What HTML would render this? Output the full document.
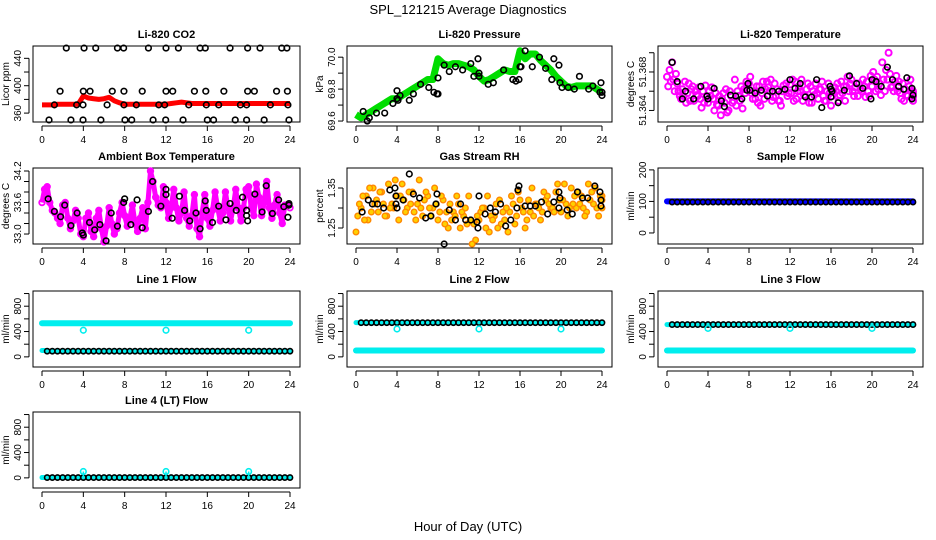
<!DOCTYPE html>
<html><head><meta charset="utf-8"><style>
html,body{margin:0;padding:0;background:#fff;}
svg{display:block;font-family:"Liberation Sans",sans-serif;}
</style></head><body>
<svg id="chart" width="936" height="540" viewBox="0 0 936 540">
<text x="468" y="14" text-anchor="middle" font-size="13">SPL_121215  Average Diagnostics</text>
<text x="468" y="531" text-anchor="middle" font-size="13">Hour of Day (UTC)</text>
</svg>
<script>
const xTicks=[0,4,8,12,16,20,24];
// CO2
const co2Red=[372,372,372,373,373,373,373,373,385,382,381,380,381,383,378,375,373,373,373,373,373,373,373,373,373,374,375,376,375,374,374,374,374,374,374,374,374,374,374,374,374,374,374,374,374,374,374,374,374];
const co2BlackH=[2.35,4.07,5.2,7.3,7.9,10.3,12.0,13.2,15.3,15.8,18.2,19.9,21.1,23.2,23.7,1.75,4.0,4.65,6.8,7.93,9.7,12.0,12.65,14.75,15.85,17.6,19.9,20.55,22.7,23.75,1.2,3.35,3.97,6.3,7.93,9.13,11.3,11.87,14.2,15.9,17.1,19.2,19.8,22.1,23.8,0.68,2.8,3.97,5.7,8.03,8.68,10.75,11.97,13.65,16.0,16.6,18.7,19.8,21.5,23.9];
const co2BlackV=[455,455,455,455,455,455,455,455,455,455,455,455,455,455,455,392,392,392,392,392,392,392,392,392,392,392,392,392,392,392,372,372,372,372,372,372,372,372,372,372,372,372,372,372,372,350,350,350,350,350,350,350,350,350,350,350,350,350,350,350];
// Pressure
const presGreen=[69.64,69.62,69.64,69.66,69.68,69.70,69.72,69.74,69.74,69.76,69.78,69.80,69.82,69.84,69.86,69.86,69.99,69.96,69.95,69.96,69.96,69.95,69.94,69.92,69.88,69.85,69.86,69.88,69.90,69.92,69.91,69.91,70.04,69.99,70.02,70.02,69.98,69.95,69.92,69.88,69.85,69.82,69.81,69.82,69.82,69.82,69.82,69.80,69.78];
const presBlackH=[0.7,1.1,1.3,2,2.8,3.6,4,4,4.1,4.3,5.2,5.6,6.3,7.1,7.6,7.9,8,8,8.6,9.1,9.7,10.4,11.2,11.5,11.9,12,12,12.9,13.4,14.4,15.3,15.6,15.9,16,16.1,16.5,17.2,17.9,18.5,19.3,19.1,19.8,19.9,20.1,20.7,21.3,21.8,22.7,23.1,23.8,23.9,24,24];
const presBlackV=[69.66,69.60,69.62,69.65,69.65,69.71,69.74,69.79,69.73,69.76,69.73,69.77,69.83,69.81,69.78,69.77,69.87,69.77,69.95,69.91,69.94,69.92,69.96,69.88,69.99,69.90,69.88,69.83,69.84,69.92,69.86,69.85,69.86,69.94,69.94,70.04,69.94,70.0,69.93,69.99,69.86,69.95,69.84,69.81,69.81,69.80,69.88,69.80,69.82,69.78,69.84,69.76,69.78];
// Li-820 temperature
const tmA=[51.3675,51.3690,51.3668,51.3662,51.3658,51.3665,51.3655,51.3660,51.3648,51.3652,51.3645,51.3658,51.3640,51.3650,51.3655,51.3662,51.3668,51.3660,51.3665,51.3652,51.3660,51.3668,51.3650,51.3662,51.3667,51.3670,51.3660,51.3655,51.3665,51.3668,51.3662,51.3650,51.3645,51.3660,51.3670,51.3665,51.3672,51.3668,51.3660,51.3670,51.3665,51.3675,51.3690,51.3672,51.3665,51.3660,51.3668,51.3655,51.3660];
const tmB=[51.3665,51.3672,51.3660,51.3655,51.3668,51.3650,51.3664,51.3648,51.3660,51.3640,51.3655,51.3648,51.3660,51.3672,51.3650,51.3658,51.3675,51.3652,51.3645,51.3662,51.3672,51.3655,51.3645,51.3668,51.3658,51.3652,51.3672,51.3662,51.3648,51.3658,51.3670,51.3660,51.3655,51.3668,51.3658,51.3675,51.3660,51.3655,51.3672,51.3660,51.3680,51.3662,51.3672,51.3700,51.3660,51.3670,51.3650,51.3665,51.3650];
const tmC=[51.3682,51.3660,51.3655,51.3670,51.3650,51.3660,51.3652,51.3666,51.3655,51.3658,51.3635,51.3662,51.3655,51.3645,51.3665,51.3670,51.3658,51.3665,51.3658,51.3670,51.3650,51.3662,51.3660,51.3655,51.3672,51.3660,51.3650,51.3668,51.3660,51.3652,51.3655,51.3668,51.3660,51.3650,51.3665,51.3660,51.3655,51.3668,51.3665,51.3655,51.3672,51.3668,51.3660,51.3678,51.3670,51.3658,51.3662,51.3672,51.3658];
const tmD=[51.3670,51.3678,51.3652,51.3648,51.3662,51.3656,51.3643,51.3654,51.3664,51.3646,51.3652,51.3638,51.3648,51.3660,51.3642,51.3666,51.3652,51.3648,51.3670,51.3664,51.3654,51.3650,51.3666,51.3658,51.3650,51.3664,51.3656,51.3648,51.3656,51.3662,51.3650,51.3658,51.3664,51.3656,51.3650,51.3668,51.3664,51.3662,51.3654,51.3676,51.3660,51.3656,51.3682,51.3664,51.3676,51.3652,51.3656,51.3660,51.3654];
const tmBlackH=[0.5,1,1.8,1.5,2.6,3.3,3.9,4,4.6,5.3,5.6,6.2,6.7,7.3,7.9,7.8,8.1,8.6,9.2,9.8,10.3,10.9,11.5,12,12.5,13,13.5,14.1,14.6,15.1,15.9,16,16,16.1,16.7,17.3,17.8,18.5,19.1,19.9,20.4,20.0,20.9,21.5,22.0,22.6,23.1,23.4,23.9,23.9,24];
const tmBlackV=[51.3690,51.3670,51.3660,51.3652,51.3652,51.3665,51.3655,51.3652,51.3663,51.3650,51.3644,51.3656,51.3655,51.3652,51.3668,51.3661,51.3661,51.3658,51.3661,51.3655,51.3660,51.3660,51.3662,51.3672,51.3663,51.3668,51.3654,51.3654,51.3672,51.3643,51.3665,51.3662,51.3654,51.3660,51.3648,51.3661,51.3676,51.3668,51.3663,51.3652,51.3670,51.3672,51.3665,51.3685,51.3672,51.3665,51.3662,51.3674,51.3663,51.3652,51.3656];
// Ambient box temperature (0.25 h steps)
const ambMag=[33.6,33.85,33.9,33.6,33.45,33.4,33.3,33.2,33.55,33.6,33.3,33.1,33.25,33.45,33.3,33.0,32.95,33.3,33.4,33.05,32.95,33.3,33.45,33.1,32.85,33.15,33.5,33.2,33.0,33.1,33.4,33.6,33.35,33.15,33.3,33.55,33.2,33.05,33.3,33.5,33.1,33.6,34.2,34.0,33.7,33.55,33.5,33.9,33.6,33.3,33.5,33.85,33.5,33.25,33.4,33.8,33.3,33.15,33.35,33.75,33.1,32.95,33.4,33.75,33.3,33.15,33.45,33.8,33.5,33.25,33.4,33.8,33.5,33.25,33.5,33.85,33.5,33.25,33.5,33.85,33.9,33.5,33.35,33.95,33.7,33.35,33.6,34.0,33.5,33.3,33.55,33.75,33.4,33.2,33.55,33.55,33.5];
const ambBlackH=[0.6,1.2,1.8,2.2,2.8,3.4,3.9,4,4.6,5.1,5.6,6.2,6.7,7.3,7.9,8,8.6,9.2,9.7,10.3,10.7,11.5,12,12,12.6,13.3,13.8,14.3,14.9,15.3,15.8,15.9,16.5,17.1,17.8,18.2,18.8,19.4,19.8,19.8,19.9,20.6,21.3,21.7,22.3,22.9,23.4,23.8,23.9,23.9];
const ambBlackV=[33.67,33.43,33.33,33.55,33.16,33.4,33.02,32.98,33.22,33.08,33.18,32.87,33.4,33.15,33.6,33.67,33.18,33.65,33.12,33.43,34.0,33.53,33.75,33.85,33.3,33.72,33.45,33.25,33.4,33.1,33.63,33.45,33.22,33.53,33.27,33.58,33.45,33.7,33.45,33.35,33.25,33.76,33.42,33.92,33.39,33.65,33.52,33.32,33.55,33.58];
// Gas stream RH
const rhA=[1.24,1.30,1.33,1.29,1.32,1.34,1.28,1.31,1.33,1.36,1.30,1.34,1.31,1.28,1.33,1.30,1.27,1.32,1.25,1.29,1.31,1.28,1.33,1.26,1.27,1.30,1.24,1.28,1.32,1.27,1.29,1.26,1.32,1.25,1.29,1.31,1.27,1.32,1.30,1.34,1.29,1.31,1.35,1.30,1.33,1.29,1.34,1.30,1.32];
const rhB=[1.28,1.33,1.27,1.35,1.29,1.31,1.36,1.30,1.27,1.32,1.34,1.29,1.37,1.32,1.30,1.35,1.29,1.26,1.31,1.28,1.25,1.30,1.27,1.22,1.29,1.25,1.28,1.31,1.26,1.30,1.33,1.28,1.30,1.27,1.35,1.31,1.29,1.33,1.30,1.36,1.32,1.28,1.31,1.34,1.30,1.36,1.31,1.28,1.33];
const rhC=[1.31,1.27,1.35,1.31,1.34,1.28,1.30,1.37,1.33,1.29,1.31,1.27,1.30,1.34,1.28,1.31,1.33,1.29,1.27,1.33,1.29,1.26,1.21,1.28,1.30,1.33,1.27,1.25,1.29,1.24,1.31,1.34,1.29,1.32,1.28,1.30,1.34,1.31,1.29,1.32,1.36,1.30,1.33,1.31,1.28,1.32,1.35,1.33,1.30];
const rhBlackH=[0.6,1.2,1.6,2.1,2.7,3.3,3.8,3.9,3.9,4,4.6,5.2,5.6,6.2,6.8,7.3,7.8,7.9,8.6,9.1,9.7,10.2,10.7,11.2,11.8,11.9,12,12.6,13.1,13.6,14.1,14.6,15.1,15.7,15.8,15.9,16.5,17,17.5,18.1,18.7,19.3,19.8,19.8,19.9,20.6,21.1,21.6,22.1,22.6,23.3,23.8,23.9,23.9];
const rhBlackV=[1.29,1.32,1.31,1.31,1.30,1.345,1.35,1.33,1.31,1.30,1.32,1.385,1.335,1.325,1.275,1.28,1.31,1.335,1.21,1.295,1.27,1.31,1.27,1.27,1.265,1.25,1.33,1.285,1.30,1.29,1.31,1.255,1.27,1.30,1.345,1.355,1.305,1.305,1.305,1.315,1.285,1.315,1.34,1.30,1.325,1.295,1.285,1.34,1.325,1.325,1.355,1.34,1.305,1.32];
// Flows: [start hour, end hour, value]
const sampleBlue=[0,24,100];
const sampleBlack=[0.5,24,98];
const line1Cyan=[0,24,530];
const line1CyanLow=[0,0.3,100];
const line1Black=[0.5,24,90];
const line2Cyan=[0,24,100];
const line2Black=[0.5,24,540];
const line3Cyan=[0,24,100];
const line3Black=[0.5,24,510];
const line4Cyan=[0,0.3,5];
const line4Black=[0.5,24,5];
const spikeHours=[4,12,20];
const line1Spike=[420,420,420];
const line2Spike=[440,440,440];
const line3Spike=[450,450,450];
const line4Spike=[100,100,100];
const line2CyanStart=[0,0.2,540];
const line3CyanStart=[0,0.2,510];
</script>
<script>
const svg=document.getElementById('chart');
const NS='http://www.w3.org/2000/svg';
function mk(tag,attrs,parent){const e=document.createElementNS(NS,tag);for(const k in attrs)e.setAttribute(k,attrs[k]);(parent||svg).appendChild(e);return e;}
const colL=[33,347,658],colW=[267,265,265],rowT=[46,168,291,412],H=76;
function panel(c,r,title,ylab,ymin,ymax,ticks,labels,name){
  const g=mk('g',{});
  
  
  const L=colL[c],T=rowT[r],W=colW[c],B=T+H;
  const P={g,L,T,W,B,
    x:h=>L+9+h/24*(W-19),
    y:v=>B-(v-ymin)/(ymax-ymin)*H};
  const box=mk('rect',{x:L,y:T,width:W,height:H,fill:'none',stroke:'#000','stroke-width':1},g);
  
  
  const t=mk('text',{x:L+W/2,y:T-8,'text-anchor':'middle','font-size':11,'font-weight':'bold'},g);t.textContent=title;
  
  
  mk('line',{x1:P.x(0),x2:P.x(24),y1:B+4,y2:B+4,stroke:'#000'},g);
  xTicks.forEach(h=>{mk('line',{x1:P.x(h),x2:P.x(h),y1:B+4,y2:B+9,stroke:'#000'},g);
    const tl=mk('text',{x:P.x(h),y:B+21,'text-anchor':'middle','font-size':10},g);tl.textContent=h;
    
    });
  const y0=P.y(ticks[0]),y1=P.y(ticks[ticks.length-1]);
  mk('line',{x1:L-4,x2:L-4,y1:y0,y2:y1,stroke:'#000'},g);
  ticks.forEach((v,i)=>{const yy=P.y(v);mk('line',{x1:L-4,x2:L-9,y1:yy,y2:yy,stroke:'#000'},g);
    if(labels[i]!==''){const tl=mk('text',{x:L-12,y:yy,'text-anchor':'middle','font-size':10,transform:`rotate(-90 ${L-12} ${yy})`},g);tl.textContent=labels[i];
    
    }});
  const yl=mk('text',{x:L-24,y:T+H/2,'text-anchor':'middle','font-size':10,transform:`rotate(-90 ${L-24} ${T+H/2})`},g);yl.textContent=ylab;
  
  
  return P;
}
function circ(P,h,v,col,r,sw,fill){const e=mk('circle',{cx:P.x(h),cy:P.y(v),r:r||2.8,fill:fill||'none',stroke:col,'stroke-width':sw||1.6},P.g);
  
  return e;}
function series(P,vals,col,w,offset){const n=vals.length;const pts=vals.map((v,i)=>P.x((offset||0)+i*24/(n-1))+','+P.y(v)).join(' ');
  const e=mk('polyline',{points:pts,fill:'none',stroke:col,'stroke-width':w,'stroke-linejoin':'round'},P.g);
  
  return e;}
function band(P,seg,col,w){const e=mk('line',{x1:P.x(seg[0]),x2:P.x(seg[1]),y1:P.y(seg[2]),y2:P.y(seg[2]),stroke:col,'stroke-width':w,'stroke-linecap':'round'},P.g);
  
  return e;}
function dots(P,seg,col,step){for(let h=seg[0];h<=seg[1]+1e-6;h+=step)circ(P,h,seg[2],col,2.6,1.6);}

let P=panel(0,0,'Li-820 CO2','Licor ppm',347,458,[360,380,400,420,440],['360','','400','','440'],'co2');
series(P,co2Red,'#ff0000',5);
co2BlackH.forEach((h,i)=>circ(P,h,co2BlackV[i],'#000'));
P=panel(1,0,'Li-820 Pressure','kPa',69.594,70.07,[69.6,69.7,69.8,69.9,70.0],['69.6','','69.8','','70.0'],'pressure');
series(P,presGreen,'#00dd00',7);
presBlackH.forEach((h,i)=>circ(P,h,presBlackV[i],'#000'));
P=panel(2,0,'Li-820 Temperature','degrees C',51.3628,51.3707,[51.364,51.366,51.368,51.370],['51.364','','51.368',''],'li820-temp');
[[tmA,0],[tmB,0.12],[tmC,0.25],[tmD,0.37]].forEach(([arr,off])=>arr.forEach((v,i)=>circ(P,Math.min(24,off+i*0.5),v,'#ff00ff',3,2)));
tmBlackH.forEach((h,i)=>circ(P,h,tmBlackV[i],'#000'));
P=panel(0,1,'Ambient Box Temperature','degrees C',32.81,34.257,[33.0,33.2,33.4,33.6,33.8,34.0,34.2],['33.0','','','33.6','','','34.2'],'ambient-temp');
series(P,ambMag,'#ff00ff',5);
ambMag.forEach((v,i)=>circ(P,i*0.25,v,'#ff00ff',2.8,1.8));
ambBlackH.forEach((h,i)=>circ(P,h,ambBlackV[i],'#000'));
P=panel(1,1,'Gas Stream RH','percent',1.21,1.40,[1.25,1.30,1.35],['1.25','','1.35'],'rh');
[[rhA,0],[rhB,0.17],[rhC,0.33]].forEach(([arr,off])=>arr.forEach((v,i)=>circ(P,Math.min(24,off+i*0.5),v,'#ff8800',2.8,1.4,'#ffd000')));
rhBlackH.forEach((h,i)=>circ(P,h,rhBlackV[i],'#000'));
P=panel(2,1,'Sample Flow','ml/min',-35,206,[0,50,100,150,200],['0','','100','','200'],'sample-flow');
band(P,sampleBlue,'#0000ff',6);
dots(P,sampleBlack,'#000',0.5);
const flowT=[0,200,400,600,800,1000],flowL=['0','','400','','800',''];
P=panel(0,2,'Line 1 Flow','ml/min',-160,1040,flowT,flowL,'line1-flow');
band(P,line1Cyan,'#00eeee',6);band(P,line1CyanLow,'#00eeee',5);band(P,line1Black,'#00eeee',5);dots(P,line1Black,'#000',0.5);
spikeHours.forEach((h,i)=>circ(P,h,line1Spike[i],'#00eeee'));
P=panel(1,2,'Line 2 Flow','ml/min',-160,1040,flowT,flowL,'line2-flow');
band(P,line2Cyan,'#00eeee',6);band(P,line2CyanStart,'#00eeee',5);band(P,line2Black,'#00eeee',5);dots(P,line2Black,'#000',0.5);
spikeHours.forEach((h,i)=>circ(P,h,line2Spike[i],'#00eeee'));
P=panel(2,2,'Line 3 Flow','ml/min',-160,1040,flowT,flowL,'line3-flow');
band(P,line3Cyan,'#00eeee',6);band(P,line3CyanStart,'#00eeee',5);band(P,line3Black,'#00eeee',5);dots(P,line3Black,'#000',0.5);
spikeHours.forEach((h,i)=>circ(P,h,line3Spike[i],'#00eeee'));
P=panel(0,3,'Line 4 (LT) Flow','ml/min',-160,1040,flowT,flowL,'line4-flow');
band(P,line4Cyan,'#00eeee',5);band(P,line4Black,'#00eeee',5);dots(P,line4Black,'#000',0.5);
spikeHours.forEach((h,i)=>{const yv=line4Spike[i];mk('line',{x1:P.x(h),x2:P.x(h),y1:P.y(yv),y2:P.y(line4Black[2]),stroke:'#00eeee','stroke-width':1.5},P.g);circ(P,h,yv,'#00eeee');});
</script>
</body></html>
